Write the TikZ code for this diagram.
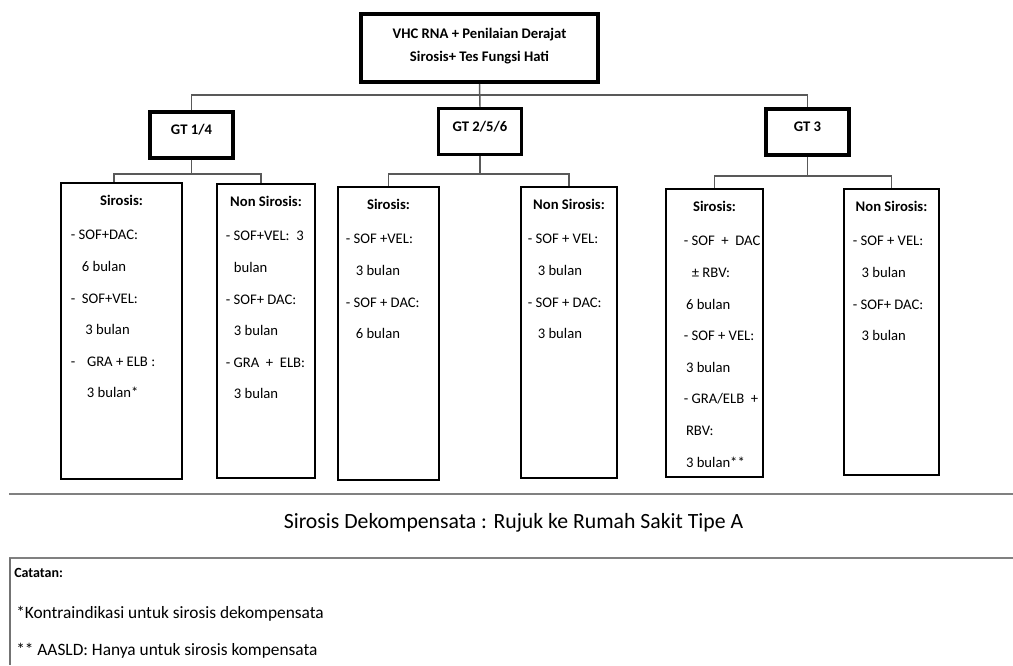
\documentclass[tikz,border=0pt]{standalone}
\usepackage{fontspec}
\setmainfont{Carlito}
\usetikzlibrary{positioning}

\tikzset{
  box/.style={draw, rectangle, inner sep=0pt},
  topbox/.style={box, line width=3pt, minimum width=177.75pt, minimum height=51pt,
    align=center, font=\bfseries\fontsize{11}{17.25}\selectfont},
  gtbox/.style={box, line width=2.6pt, minimum width=62.25pt, minimum height=34.5pt,
    text height=8pt, text depth=8.5pt, font=\bfseries\fontsize{11}{13}\selectfont},
  leafbox/.style={box, line width=2.2pt},
  leaftitle/.style={anchor=base, inner sep=0pt, font=\bfseries\fontsize{11}{13}\selectfont},
  leaflist/.style={anchor=north west, inner sep=0pt, align=left,
    font=\fontsize{11}{23.7}\selectfont},
  conn/.style={draw=black!65, line width=1.1pt},
  sep/.style={draw=black!50, line width=2.2pt},
  notetext/.style={anchor=west, inner sep=0pt, font=\fontsize{13}{15}\selectfont},
}

\begin{document}
\begin{tikzpicture}[x=0.75pt,y=-0.75pt]
\useasboundingbox (0,0) rectangle (1013,665);

% root and genotypes
\node[topbox] (root) at (479.5,48) {VHC RNA + Penilaian Derajat\\Sirosis+ Tes Fungsi Hati\\[-12.75pt]};
\node[gtbox] (gt14) at (191.5,135) {GT 1/4};
\node[gtbox] (gt256) at (480,131.5) {GT 2/5/6};
\node[gtbox] (gt3) at (807.5,132) {GT 3};
\coordinate (hub) at (480,95);
\draw[conn] (root.south) -- (gt256.north);
\draw[conn] (gt14.north) |- (hub) -| (gt3.north);

% leaf boxes
\node[leafbox, minimum width=90.75pt, minimum height=222pt] (s14) at (121.5,331) {};
\node[leafbox, minimum width=73.5pt, minimum height=220.5pt] (n14) at (266,331) {};
\node[leafbox, minimum width=75.75pt, minimum height=219.75pt] (s256) at (388.5,333.5) {};
\node[leafbox, minimum width=72pt, minimum height=218.25pt] (n256) at (569,332.5) {};
\node[leafbox, minimum width=72.75pt, minimum height=216pt] (s3) at (714.5,333) {};
\node[leafbox, minimum width=71.25pt, minimum height=214.5pt] (n3) at (891.5,332) {};

\coordinate (j14) at (191.5,174);
\coordinate (j256) at (480,174);
\coordinate (j3) at (807.5,176);
\draw[conn] (gt14.south) -- (j14);
\draw[conn] ([xshift=-5.6pt]s14.north) |- (j14) -| ([xshift=-3.75pt]n14.north);
\draw[conn] (gt256.south) -- (j256);
\draw[conn] (s256.north) |- (j256) -| (n256.north);
\draw[conn] (gt3.south) -- (j3);
\draw[conn] (s3.north) |- (j3) -| (n3.north);

% leaf texts
\node[leaftitle] (s14t) at ([yshift=-17.8pt]s14.north) {Sirosis:};
\node[leaflist] (s14l) at ([xshift=8.25pt,yshift=-36.5pt]s14.north west)
  {- SOF+DAC:\\ \hspace*{0.75em}6 bulan\\ -\hspace{0.45em}SOF+VEL:\\
   \hspace*{1em}3 bulan\\ -\hspace{0.8em}GRA + ELB :\\ \hspace*{1.1em}3 bulan*};
\node[leaftitle] (n14t) at ([yshift=-17.8pt]n14.north) {Non Sirosis:};
\node[leaflist] (n14l) at ([xshift=7.5pt,yshift=-36.5pt]n14.north west)
  {- SOF+VEL:\ \ 3\\ \hspace*{0.55em}bulan\\ - SOF+ DAC:\\
   \hspace*{0.55em}3 bulan\\ - GRA\ \ +\ \ ELB:\\ \hspace*{0.55em}3 bulan};
\node[leaftitle] (s256t) at ([yshift=-17.8pt]s256.north) {Sirosis:};
\node[leaflist] (s256l) at ([xshift=6.75pt,yshift=-36.5pt]s256.north west)
  {- SOF +VEL:\\ \hspace*{0.68em}3 bulan\\ - SOF + DAC:\\ \hspace*{0.68em}6 bulan};
\node[leaftitle] (n256t) at ([yshift=-17.8pt]n256.north) {Non Sirosis:};
\node[leaflist] (n256l) at ([xshift=6pt,yshift=-36.5pt]n256.north west)
  {- SOF + VEL:\\ \hspace*{0.68em}3 bulan\\ - SOF + DAC:\\ \hspace*{0.68em}3 bulan};
\node[leaftitle] (s3t) at ([yshift=-17.8pt]s3.north) {Sirosis:};
\node[leaflist] (s3l) at ([xshift=14.25pt,yshift=-36.5pt]s3.north west)
  {- SOF\ \ +\ \ DAC\\ \hspace*{0.55em}± RBV:\\ \hspace*{0.15em}6 bulan\\ - SOF + VEL:\\
   \hspace*{0.15em}3 bulan\\ - GRA/ELB\ \ +\\ \hspace*{0.15em}RBV:\\ \hspace*{0.15em}3 bulan**};
\node[leaftitle] (n3t) at ([yshift=-17.8pt]n3.north) {Non Sirosis:};
\node[leaflist] (n3l) at ([xshift=7.5pt,yshift=-36.5pt]n3.north west)
  {- SOF + VEL:\\ \hspace*{0.6em}3 bulan\\ - SOF+ DAC:\\ \hspace*{0.6em}3 bulan};

% referral line and notes
\draw[sep] (9,494) -- (1013,494);
\node[anchor=base, inner sep=0pt, font=\fontsize{16.3}{19}\selectfont] (refer) at (513.5,528)
  {Sirosis Dekompensata : Rujuk ke Rumah Sakit Tipe A};
\draw[sep] (9,558) -- (1013,558);
\draw[draw=black!55, line width=0.8pt] (10,558) -- (10,665);
\node[anchor=west, inner sep=0pt, font=\bfseries\fontsize{10.5}{12}\selectfont] (catatan) at (14,573) {Catatan:};
\node[notetext] (note1) at (16,614) {*Kontraindikasi untuk sirosis dekompensata};
\node[notetext] (note2) at (16,651) {** AASLD: Hanya untuk sirosis kompensata};
\end{tikzpicture}
\end{document}
